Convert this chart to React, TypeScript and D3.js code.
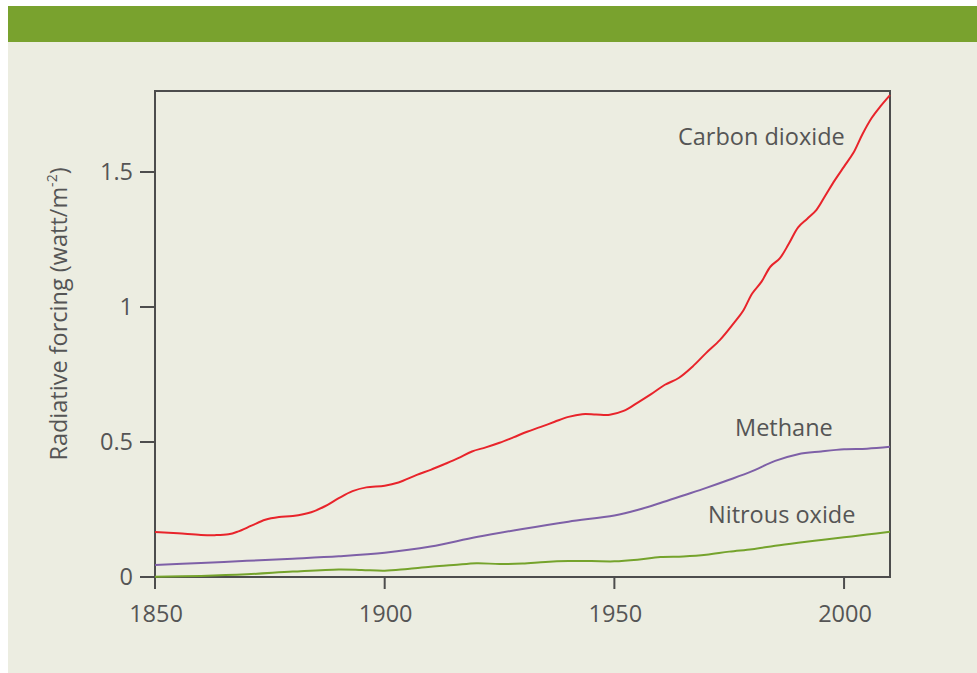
import React from "react";
import * as d3 from "d3";

const co2Years = [1850,1855,1860,1863,1866,1868,1871,1874,1877,1880,1884,1887,1890,1893,1896,1900,1903,1907,1910,1913,1916,1919,1922,1925,1928,1931,1934,1937,1940,1943,1946,1949,1952,1955,1958,1961,1964,1967,1970,1973,1976,1978,1980,1982,1984,1986,1988,1990,1992,1994,1996,1998,2000,2002,2004,2006,2008,2010];
const co2Values = [0.167,0.162,0.156,0.155,0.158,0.168,0.19,0.212,0.222,0.226,0.24,0.262,0.292,0.318,0.332,0.338,0.35,0.378,0.397,0.418,0.44,0.465,0.48,0.497,0.517,0.538,0.556,0.575,0.593,0.603,0.602,0.601,0.615,0.645,0.677,0.712,0.737,0.779,0.83,0.878,0.94,0.985,1.05,1.093,1.15,1.18,1.235,1.295,1.327,1.36,1.415,1.47,1.52,1.57,1.64,1.7,1.745,1.785];

const ch4Years = [1850,1860,1870,1880,1890,1900,1910,1920,1930,1940,1950,1955,1960,1965,1970,1975,1980,1985,1990,1995,2000,2005,2010];
const ch4Values = [0.044,0.052,0.06,0.068,0.077,0.09,0.113,0.148,0.178,0.205,0.228,0.248,0.274,0.302,0.33,0.36,0.392,0.43,0.455,0.465,0.473,0.475,0.482];

const n2oYears = [1850,1860,1870,1880,1890,1895,1900,1905,1910,1915,1920,1925,1930,1935,1940,1945,1950,1955,1960,1965,1970,1975,1980,1985,1990,1995,2000,2005,2010];
const n2oValues = [0.001,0.004,0.01,0.02,0.028,0.026,0.023,0.03,0.038,0.044,0.051,0.048,0.05,0.056,0.059,0.059,0.058,0.064,0.074,0.076,0.082,0.094,0.103,0.116,0.127,0.137,0.147,0.157,0.168];

const xTicks = [1850, 1900, 1950, 2000];
const yTicks = [0, 0.5, 1, 1.5];
const yTickLabels = ["0", "0.5", "1", "1.5"];

const FONT = "'Open Sans', 'Noto Sans', sans-serif";
const TEXT = "#555555";
const AXIS = "#4d4d4d";
const FS = 23.5;

export default function App() {
  const x = d3.scaleLinear().domain([1850, 2010]).range([155, 890]);
  const y = d3.scaleLinear().domain([0, 1.8]).range([577, 91]);
  const line = d3
    .line<[number, number]>()
    .x((d) => x(d[0]))
    .y((d) => y(d[1]))
    .curve(d3.curveCatmullRom.alpha(0.5));
  const mk = (ys: number[], vs: number[]) => ys.map((yr, i) => [yr, vs[i]] as [number, number]);

  const series = [
    { data: mk(co2Years, co2Values), color: "#e8242b" },
    { data: mk(ch4Years, ch4Values), color: "#7e60a7" },
    { data: mk(n2oYears, n2oValues), color: "#75a32c" },
  ];

  return (
    <svg
      width={977}
      height={673}
      style={{ position: "absolute", left: 0, top: 0, fontFamily: FONT }}
    >
      <rect x={0} y={0} width={977} height={673} fill="#ffffff" />
      <rect x={8} y={6} width={969} height={667} fill="#ecede1" />
      <rect x={8} y={6} width={969} height={36} fill="#79a22e" />

      {/* frame */}
      <line x1={155} x2={890} y1={y(1.8)} y2={y(1.8)} stroke={AXIS} strokeWidth={2} />
      <line x1={x(2010)} x2={x(2010)} y1={90} y2={578} stroke={AXIS} strokeWidth={2} />
      <line x1={155} x2={891} y1={y(0)} y2={y(0)} stroke={AXIS} strokeWidth={2} />
      <line x1={x(1850)} x2={x(1850)} y1={90} y2={578} stroke={AXIS} strokeWidth={2} />

      {/* y ticks */}
      {yTicks.map((t, i) => (
        <g key={"y" + t}>
          <line x1={140} x2={155} y1={y(t)} y2={y(t)} stroke={AXIS} strokeWidth={2} />
          <text
            x={133}
            y={y(t)}
            dy="0.36em"
            textAnchor="end"
            fontSize={FS}
            fill={TEXT}
          >
            {yTickLabels[i]}
          </text>
        </g>
      ))}

      {/* x ticks */}
      {xTicks.map((t) => (
        <g key={"x" + t}>
          <line x1={x(t)} x2={x(t)} y1={577} y2={589} stroke={AXIS} strokeWidth={2} />
          <text x={x(t) + 1} y={622} textAnchor="middle" fontSize={FS} fill={TEXT}>
            {t}
          </text>
        </g>
      ))}

      {/* y axis title */}
      <text
        transform={`translate(67, 314) rotate(-90)`}
        textAnchor="middle"
        fontSize={FS}
        fill={TEXT}
      >
        Radiative forcing (watt/m
        <tspan fontSize={14} dy={-10}>-2</tspan>
        <tspan dy={10}>)</tspan>
      </text>

      {series.map((s, i) => (
        <path key={i} d={line(s.data) || ""} fill="none" stroke={s.color} strokeWidth={2} />
      ))}

      <text x={678} y={145} fontSize={FS} fill={TEXT}>Carbon dioxide</text>
      <text x={735} y={436} fontSize={FS} fill={TEXT}>Methane</text>
      <text x={708} y={523} fontSize={FS} fill={TEXT}>Nitrous oxide</text>
    </svg>
  );
}
